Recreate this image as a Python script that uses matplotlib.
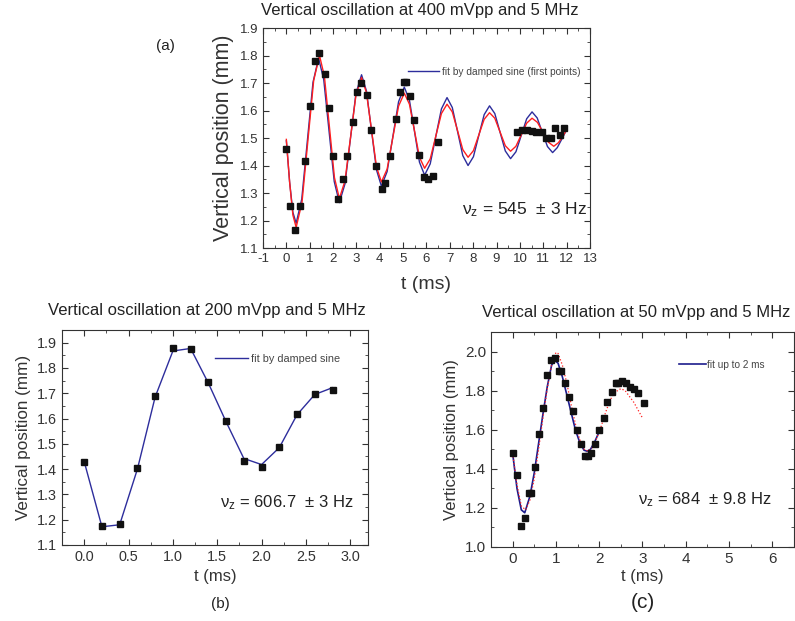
import matplotlib
matplotlib.use('Agg')
import matplotlib.pyplot as plt
from matplotlib.ticker import MultipleLocator

plt.rcParams['font.family'] = ['Liberation Sans', 'DejaVu Sans']
plt.rcParams['mathtext.fontset'] = 'custom'
plt.rcParams['mathtext.rm'] = 'Liberation Sans'
plt.rcParams['mathtext.it'] = 'Liberation Sans:italic'
plt.rcParams['axes.unicode_minus'] = False

# (a) 400 mVpp - dados medidos
t_a = [0.0, 0.17, 0.36, 0.6, 0.8, 1.0, 1.21, 1.39, 1.64, 1.83, 2.0, 2.2, 2.43, 2.61,
       2.86, 3.03, 3.21, 3.46, 3.64, 3.83, 4.09, 4.24, 4.43, 4.69, 4.86, 5.02, 5.12,
       5.29, 5.47, 5.66, 5.9, 6.07, 6.29, 6.5,
       9.86, 10.07, 10.29, 10.5, 10.71, 10.93, 11.1, 11.33, 11.5, 11.7, 11.9]
pos_a = [1.461, 1.252, 1.167, 1.252, 1.418, 1.618, 1.779, 1.809, 1.734, 1.609, 1.433,
         1.278, 1.35, 1.433, 1.557, 1.667, 1.70, 1.657, 1.528, 1.397, 1.315, 1.336,
         1.433, 1.57, 1.667, 1.705, 1.705, 1.652, 1.564, 1.439, 1.358, 1.351, 1.361,
         1.484,
         1.521, 1.528, 1.528, 1.525, 1.521, 1.521, 1.50, 1.50, 1.536, 1.512, 1.536]

# (a) ajuste azul (fit by damped sine)
fit_t_a = [0.0, 0.14, 0.28, 0.42, 0.66, 0.9, 1.14, 1.38, 1.6, 1.825, 2.05, 2.27,
           2.51, 2.745, 2.98, 3.22, 3.43, 3.645, 3.86, 4.07, 4.315, 4.56, 4.805, 5.05,
           5.27, 5.485, 5.7, 5.92, 6.16, 6.4, 6.64, 6.88, 7.105, 7.33, 7.555, 7.78,
           8.01, 8.24, 8.47, 8.7, 8.925, 9.15, 9.375, 9.6, 9.83, 10.06, 10.29, 10.52,
           10.74, 10.96, 11.18, 11.4, 11.6, 11.8, 12.0]
fit_blue_a = [1.49, 1.34, 1.23, 1.19, 1.278, 1.49, 1.702, 1.79, 1.713, 1.528, 1.342,
              1.265, 1.333, 1.498, 1.662, 1.73, 1.671, 1.528, 1.384, 1.325, 1.378,
              1.505, 1.632, 1.685, 1.638, 1.525, 1.412, 1.365, 1.406, 1.506, 1.606,
              1.647, 1.611, 1.524, 1.436, 1.40, 1.432, 1.509, 1.585, 1.617, 1.589,
              1.521, 1.453, 1.425, 1.45, 1.51, 1.57, 1.595, 1.573, 1.521, 1.469,
              1.447, 1.465, 1.497, 1.53]
# (a) ajuste vermelho
fit_t_a2 = [0.0, 0.14, 0.28, 0.42, 0.67, 0.92, 1.17, 1.42, 1.63, 1.845, 2.06, 2.27,
            2.51, 2.745, 2.98, 3.22, 3.43, 3.645, 3.86, 4.07, 4.315, 4.56, 4.805, 5.05,
            5.27, 5.485, 5.7, 5.92, 6.16, 6.4, 6.64, 6.88, 7.105, 7.33, 7.555, 7.78,
            8.01, 8.24, 8.47, 8.7, 8.925, 9.15, 9.375, 9.6, 9.83, 10.06, 10.29, 10.52,
            10.75, 10.985, 11.22, 11.45, 11.65, 11.85, 12.0]
fit_red_a = [1.495, 1.34, 1.22, 1.175, 1.266, 1.488, 1.709, 1.80, 1.724, 1.54, 1.356,
             1.28, 1.344, 1.50, 1.656, 1.72, 1.665, 1.53, 1.395, 1.34, 1.387, 1.502,
             1.616, 1.663, 1.623, 1.527, 1.43, 1.39, 1.424, 1.507, 1.589, 1.623, 1.595,
             1.527, 1.458, 1.43, 1.454, 1.511, 1.568, 1.592, 1.572, 1.522, 1.472,
             1.452, 1.47, 1.512, 1.554, 1.572, 1.557, 1.521, 1.485, 1.47, 1.483,
             1.508, 1.53]

# (b) 200 mVpp
t_b = [0.0, 0.2, 0.4, 0.6, 0.8, 1.0, 1.2, 1.4, 1.6, 1.8, 2.0, 2.2, 2.4, 2.6, 2.8]
pos_b = [1.43, 1.175, 1.183, 1.405, 1.688, 1.88, 1.873, 1.743, 1.592, 1.432, 1.41,
         1.488, 1.617, 1.696, 1.712]
fit_b = [1.43, 1.172, 1.18, 1.40, 1.685, 1.867, 1.877, 1.74, 1.587, 1.442, 1.418,
         1.485, 1.615, 1.695, 1.722]

# (c) 50 mVpp
t_c = [0.0, 0.1, 0.19, 0.29, 0.37, 0.42, 0.51, 0.61, 0.71, 0.8, 0.89, 0.99, 1.07,
       1.12, 1.22, 1.31, 1.4, 1.49, 1.59, 1.68, 1.73, 1.82, 1.91, 2.0, 2.1, 2.19,
       2.29, 2.38, 2.43, 2.52, 2.61, 2.71, 2.8, 2.9, 3.03]
pos_c = [1.48, 1.369, 1.108, 1.149, 1.274, 1.274, 1.41, 1.578, 1.712, 1.88, 1.955,
         1.966, 1.90, 1.90, 1.84, 1.767, 1.695, 1.60, 1.527, 1.463, 1.463, 1.48,
         1.528, 1.60, 1.66, 1.743, 1.794, 1.837, 1.837, 1.847, 1.837, 1.818, 1.806,
         1.786, 1.737]
fit_t_c = [0.0, 0.1, 0.2, 0.28, 0.4, 0.5, 0.6, 0.7, 0.8, 0.9, 0.97, 1.05, 1.15, 1.25,
           1.35, 1.45, 1.55, 1.65, 1.72, 1.8, 1.9, 2.0]
fit_c = [1.48, 1.30, 1.19, 1.175, 1.26, 1.38, 1.53, 1.68, 1.82, 1.93, 1.955, 1.94,
         1.87, 1.78, 1.69, 1.60, 1.535, 1.495, 1.49, 1.50, 1.54, 1.59]
fit_t_c2 = [0.0, 0.1, 0.2, 0.3, 0.4, 0.5, 0.6, 0.7, 0.8, 0.9, 1.0, 1.05, 1.15, 1.25,
            1.35, 1.45, 1.55, 1.65, 1.75, 1.85, 1.95, 2.05, 2.15, 2.25, 2.35, 2.5,
            2.6, 2.7, 2.8, 2.9, 3.0]
fit_c2 = [1.48, 1.32, 1.21, 1.19, 1.24, 1.35, 1.50, 1.66, 1.81, 1.93, 1.995, 1.99,
          1.93, 1.84, 1.73, 1.63, 1.55, 1.50, 1.49, 1.51, 1.56, 1.62, 1.69, 1.75,
          1.79, 1.81, 1.80, 1.77, 1.74, 1.70, 1.66]

blue = '#2d2d9c'
red = '#ff1f1f'
mk = dict(marker='s', ms=4.2, color='#111111', ls='none')


def style(ax, xmaj, xmin, ymaj, ymin, tsize):
    ax.xaxis.set_major_locator(MultipleLocator(xmaj))
    ax.xaxis.set_minor_locator(MultipleLocator(xmin))
    ax.yaxis.set_major_locator(MultipleLocator(ymaj))
    ax.yaxis.set_minor_locator(MultipleLocator(ymin))
    ax.tick_params(which='both', direction='in', top=True, right=True,
                   colors='#333333', labelcolor='#333333', labelsize=tsize)
    ax.tick_params(which='major', length=4)
    ax.tick_params(which='minor', length=2)
    for s in ax.spines.values():
        s.set_color('#333333')


fig = plt.figure(figsize=(7.95, 6.21), dpi=100)

# gráfico (a)
ax1 = fig.add_axes([0.3308, 0.6006, 0.4113, 0.3543])
ax1.plot(fit_t_a, fit_blue_a, color=blue, lw=1.0, label='fit by damped sine (first points)')
ax1.plot(fit_t_a2, fit_red_a, color=red, lw=1.0)
ax1.plot(t_a, pos_a, **mk)
ax1.set_xlim(-1, 13)
ax1.set_ylim(1.1, 1.9)
style(ax1, 1, 0.5, 0.1, 0.05, 9.5)
ax1.set_xlabel('t (ms)', fontsize=14, color='#333333', labelpad=8)
ax1.set_ylabel('Vertical position (mm)', fontsize=15.5, color='#333333')
ax1.text(0.61, 0.173, r'$\mathregular{\nu_z}$ = 545  ± 3 Hz', transform=ax1.transAxes,
         fontsize=12.5, color='#222222', va='center')
ax1.legend(loc='center left', bbox_to_anchor=(0.445, 0.80), frameon=False, fontsize=7.3,
           handlelength=3, handletextpad=0.3, borderpad=0, borderaxespad=0,
           labelcolor='#444444')

# gráfico (b)
ax2 = fig.add_axes([0.078, 0.1224, 0.3849, 0.3462])
ax2.plot(t_b, fit_b, color=blue, lw=1.0, label='fit by damped sine')
ax2.plot(t_b, pos_b, **mk)
ax2.set_xlim(-0.25, 3.2)
ax2.set_ylim(1.1, 1.95)
style(ax2, 0.5, 0.25, 0.1, 0.05, 10.4)
ax2.set_xlabel('t (ms)', fontsize=12, color='#333333')
ax2.set_ylabel('Vertical position (mm)', fontsize=12.3, color='#333333')
ax2.text(0.516, 0.195, r'$\mathregular{\nu_z}$ = 606.7  ± 3 Hz', transform=ax2.transAxes,
         fontsize=12, color='#222222', va='center')
ax2.legend(loc='center left', bbox_to_anchor=(0.50, 0.865), frameon=False, fontsize=7.8,
           handlelength=3, handletextpad=0.3, borderpad=0, borderaxespad=0,
           labelcolor='#444444')

# gráfico (c)
ax3 = fig.add_axes([0.6176, 0.1192, 0.3811, 0.3462])
ax3.plot(fit_t_c, fit_c, color='#1c1c8c', lw=1.2, label='fit up to 2 ms')
ax3.plot(fit_t_c2, fit_c2, color=red, lw=0.9, ls=':')
ax3.plot(t_c, pos_c, **mk)
ax3.set_xlim(-0.5, 6.5)
ax3.set_ylim(1.0, 2.1)
style(ax3, 1, 0.5, 0.2, 0.1, 11)
ax3.set_xlabel('t (ms)', fontsize=12, color='#333333', labelpad=2)
ax3.set_ylabel('Vertical position (mm)', fontsize=12, color='#333333')
ax3.text(0.484, 0.219, r'$\mathregular{\nu_z}$ = 684  ± 9.8 Hz', transform=ax3.transAxes,
         fontsize=12, color='#222222', va='center')
ax3.legend(loc='center left', bbox_to_anchor=(0.62, 0.847), frameon=False, fontsize=7.2,
           handlelength=2.7, handletextpad=0.1, borderpad=0, borderaxespad=0,
           labelcolor='#444444')

# títulos e rótulos
fig.text(420 / 795, 1 - 10 / 621, 'Vertical oscillation at 400 mVpp and 5 MHz',
         ha='center', va='center', fontsize=12, color='#222222')
fig.text(207 / 795, 1 - 310 / 621, 'Vertical oscillation at 200 mVpp and 5 MHz',
         ha='center', va='center', fontsize=12, color='#222222')
fig.text(636 / 795, 1 - 313 / 621, 'Vertical oscillation at 50 mVpp and 5 MHz',
         ha='center', va='center', fontsize=12, color='#222222')
fig.text(165 / 795, 1 - 46 / 621, '(a)', ha='center', va='center', fontsize=11, color='#222222')
fig.text(220 / 795, 1 - 604 / 621, '(b)', ha='center', va='center', fontsize=11, color='#222222')
fig.text(643 / 795, 1 - 602 / 621, '(c)', ha='center', va='center', fontsize=15, color='#222222')

fig.savefig('out.png', dpi=100)
